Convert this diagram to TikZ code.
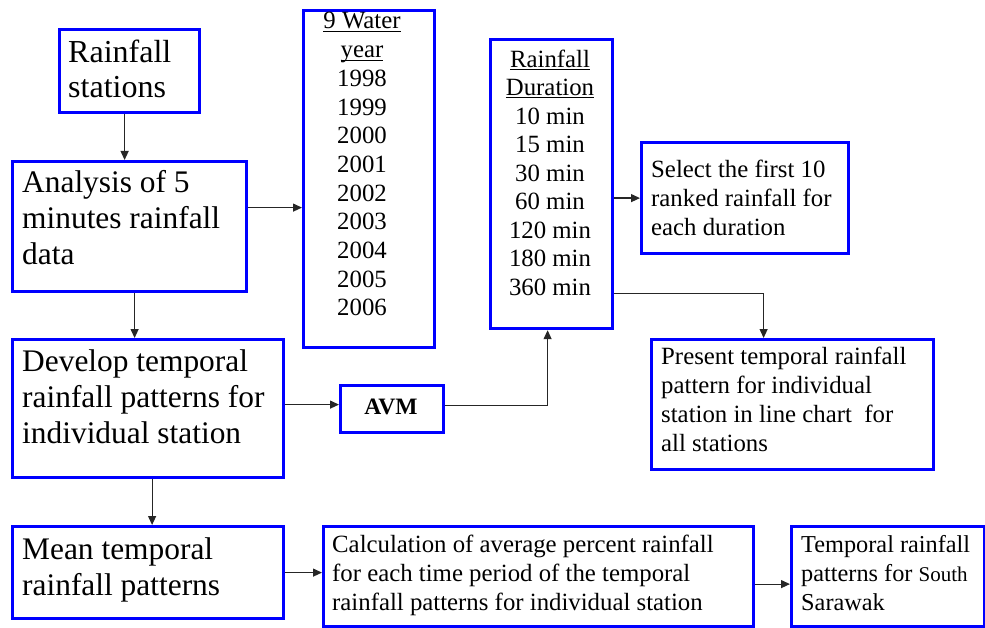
\documentclass[tikz,border=0pt]{standalone}
\usepackage{fontspec}
\setmainfont{Liberation Serif}
\usetikzlibrary{arrows.meta}
\newcommand\myul[1]{\setbox0\hbox{#1}\rlap{\rule[-3pt]{\wd0}{1.1pt}}\box0}
\begin{document}
\begin{tikzpicture}[x=1pt,y=-1pt,
  box/.style={draw=blue, line width=3.2pt, inner sep=0pt, anchor=north west},
  big/.style={font=\fontsize{31.4}{36}\selectfont, align=left, anchor=base west, inner sep=0pt},
  sml/.style={font=\fontsize{24.8}{28.7}\selectfont, align=left, anchor=base west, inner sep=0pt},
  smc/.style={font=\fontsize{24.8}{28.7}\selectfont, align=center, anchor=base, inner sep=0pt},
  arr/.style={draw=black!85, line width=1.2pt, -{Triangle[length=9pt,width=8pt]}}]
\useasboundingbox (0,0) rectangle (985,628);
% boxes
\node[box, minimum width=140pt, minimum height=83pt] (st) at (58,28) {};
\node[box, minimum width=234pt, minimum height=130pt] (an) at (11,160) {};
\node[box, minimum width=131pt, minimum height=337pt] (wy) at (302,9) {};
\node[box, minimum width=122pt, minimum height=289pt] (dur) at (489,38) {};
\node[box, minimum width=207pt, minimum height=111pt] (sel) at (640,141) {};
\node[box, minimum width=282pt, minimum height=130pt] (pres) at (650,338) {};
\node[box, minimum width=271pt, minimum height=138pt] (dev) at (11,338) {};
\node[box, minimum width=103pt, minimum height=47pt] (avm) at (339,384) {};
\node[box, minimum width=271pt, minimum height=92pt] (mean) at (11,525) {};
\node[box, minimum width=430pt, minimum height=100pt] (calc) at (322,525) {};
\node[box, minimum width=193pt, minimum height=100pt] (temp) at (790,525) {};
% texts (anchor = baseline of the last line)
\node[big, font=\fontsize{32}{35}\selectfont] (tst) at (68,98) {Rainfall\\stations};
\node[big] (tan) at (22,265) {Analysis of 5\\minutes rainfall\\data};
\node[smc] (twy) at (362,316) {\myul{9 Water}\\\myul{year}\\1998\\1999\\2000\\2001\\2002\\2003\\2004\\2005\\2006};
\node[smc, font=\fontsize{24.8}{28.5}\selectfont] (tdur) at (550,295) {\myul{Rainfall}\\\myul{Duration}\\10 min\\15 min\\30 min\\60 min\\120 min\\180 min\\360 min};
\node[sml] (tsel) at (651,235.4) {Select the first 10\\ranked rainfall for\\each duration};
\node[sml] (tpres) at (661,451) {Present temporal rainfall\\pattern for individual\\station in line chart\ \ for\\all stations};
\node[big] (tdev) at (22,443) {Develop temporal\\rainfall patterns for\\individual station};
\node[font=\fontsize{23.5}{26}\selectfont\bfseries, inner sep=0pt, anchor=base] (tavm) at (391,414) {AVM};
\node[big] (tmean) at (22,595) {Mean temporal\\rainfall patterns};
\node[sml] (tcalc) at (332,610) {Calculation of average percent rainfall\\for each time period of the temporal\\rainfall patterns for individual station};
\node[sml, font=\fontsize{24.3}{28.7}\selectfont] (ttemp) at (801,610) {Temporal rainfall\\patterns for {\fontsize{21}{28.7}\selectfont South}\\Sarawak};
% connectors
\draw[arr] ([xshift=-5pt]st.south) -- ([xshift=-5pt]st.south |- an.north);
\draw[arr] ([yshift=19pt]an.east) -- ([yshift=19pt]an.east -| wy.west);
\draw[arr] ([xshift=5pt]an.south) -- ([xshift=5pt]an.south |- dev.north);
\draw[arr] ([yshift=4pt]dev.east) -- ([yshift=4pt]dev.east -| avm.west);
\draw[arr] ([yshift=4pt]avm.east) -| ([xshift=-4pt]dur.south);
\draw[arr] (dur.east |- sel.west) -- (sel.west);
\draw[arr] ([yshift=37pt]dur.south east) -| ([xshift=-29pt]pres.north);
\draw[arr] ([xshift=4pt]dev.south) -- ([xshift=4pt]dev.south |- mean.north);
\draw[arr] (mean.east) -- (mean.east -| calc.west);
\draw[arr] ([yshift=-7.5pt]calc.east) -- ([yshift=-7.5pt]calc.east -| temp.west);
\end{tikzpicture}
\end{document}
